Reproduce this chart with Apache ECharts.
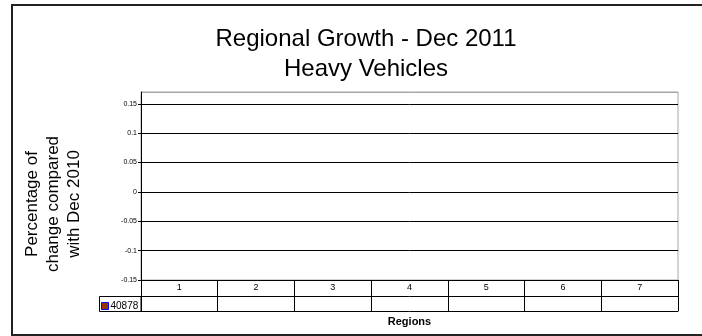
<!DOCTYPE html>
<html>
<head>
<meta charset="utf-8">
<script src="https://cdn.jsdelivr.net/npm/echarts@6/dist/echarts.min.js"></script>
<style>
  html, body { margin: 0; padding: 0; background: #fff; }
  #chart { width: 702px; height: 336px; }
</style>
</head>
<body>
<div id="chart"></div>
<script>
// Regions shown along the bottom (data table header row)
const regions = ['1', '2', '3', '4', '5', '6', '7'];
// Series for the month 40878 (Excel serial date for Dec 2011) - no values recorded
const seriesName = '40878';
const growthValues = [null, null, null, null, null, null, null];
// Value axis range and step
const yMin = -0.15;
const yMax = 0.17;
const yStep = 0.05;

const FONT = '"Liberation Sans", Arial, sans-serif';

// Plot area geometry
const gridLeft = 141, gridRight = 24, gridTop = 92, gridBottom = 56;
const rowH = 16;            // height of the header row of the data table
const tableH = 31;          // header row + series row

const chart = echarts.init(document.getElementById('chart'), null, { renderer: 'canvas' });

// one black split line per tick, with the topmost (plot edge) in grey
const nTicks = Math.round((0.15 - yMin) / yStep) + 2;
const splitColors = [];
for (let i = 0; i < nTicks; i++) splitColors.push(i === nTicks - 1 ? '#a6a6a6' : '#000');

const tableAxis = (offset) => ({
  type: 'category',
  data: regions,
  position: 'bottom',
  offset: offset,
  axisLine: { show: true, onZero: false, lineStyle: { color: '#000', width: 1 } },
  axisTick: { show: false },
  axisLabel: { show: false },
  splitLine: { show: false }
});

const seriesStyle = { color: '#993300', borderColor: '#0000ff', borderWidth: 1 };

chart.setOption({
  animation: false,
  backgroundColor: '#fff',
  grid: {
    left: gridLeft, right: gridRight, top: gridTop, bottom: gridBottom,
    show: true, borderColor: '#a6a6a6', borderWidth: 1, backgroundColor: 'transparent'
  },
  legend: {
    data: [{ name: seriesName, itemStyle: seriesStyle }],
    left: 101, top: 301,
    padding: 0,
    itemWidth: 7, itemHeight: 7,
    icon: 'rect',
    textStyle: { fontFamily: FONT, fontSize: 10, color: '#000', padding: [0, 0, 0, -3] }
  },
  xAxis: [
    {
      type: 'category',
      data: regions,
      position: 'bottom',
      boundaryGap: true,
      name: 'Regions',
      nameLocation: 'middle',
      nameGap: 36,
      nameTextStyle: { fontFamily: FONT, fontSize: 11, fontWeight: 'bold', color: '#000' },
      axisLine: { show: true, onZero: false, lineStyle: { color: '#000', width: 1 } },
      axisTick: { show: true, interval: 0, alignWithLabel: false, length: tableH, lineStyle: { color: '#000' } },
      axisLabel: { interval: 0, margin: 3, fontFamily: FONT, fontSize: 9, color: '#000' },
      splitLine: { show: false }
    },
    tableAxis(rowH),
    tableAxis(tableH)
  ],
  yAxis: {
    type: 'value',
    min: yMin, max: yMax, interval: yStep,
    axisLine: { show: true, onZero: false, lineStyle: { color: '#000', width: 1 } },
    axisTick: { show: true, length: 3, lineStyle: { color: '#000' } },
    axisLabel: {
      margin: 4, fontFamily: FONT, fontSize: 7, color: '#000',
      showMaxLabel: false,
      formatter: (v) => String(Math.round(v * 100) / 100)
    },
    splitLine: { show: true, lineStyle: { color: splitColors, width: 1 } }
  },
  series: [{
    name: seriesName,
    type: 'bar',
    xAxisIndex: 0,
    data: growthValues,
    itemStyle: seriesStyle
  }],
  graphic: [
    // chart frame
    { type: 'rect', silent: true, z: 100,
      shape: { x: 12, y: 5, width: 720, height: 330 },
      style: { fill: 'none', stroke: '#222', lineWidth: 2 } },
    // legend key cell of the data table
    { type: 'rect', silent: true, z: 100,
      shape: { x: 99.5, y: 296.5, width: gridLeft - 99.5, height: 15 },
      style: { fill: 'none', stroke: '#000', lineWidth: 1 } },
    // chart title
    { type: 'text', silent: true,
      style: { x: 366, y: 24, text: 'Regional Growth - Dec 2011\nHeavy Vehicles',
               align: 'center', verticalAlign: 'top', lineHeight: 30,
               font: '24px ' + FONT, fill: '#000' } },
    // value axis title
    { type: 'text', silent: true,
      x: 53, y: 204, rotation: Math.PI / 2,
      style: { x: 0, y: 0, text: 'Percentage of\nchange compared\nwith Dec 2010',
               align: 'center', verticalAlign: 'middle', lineHeight: 21,
               font: '17px ' + FONT, fill: '#000' } }
  ]
});
</script>
</body>
</html>
